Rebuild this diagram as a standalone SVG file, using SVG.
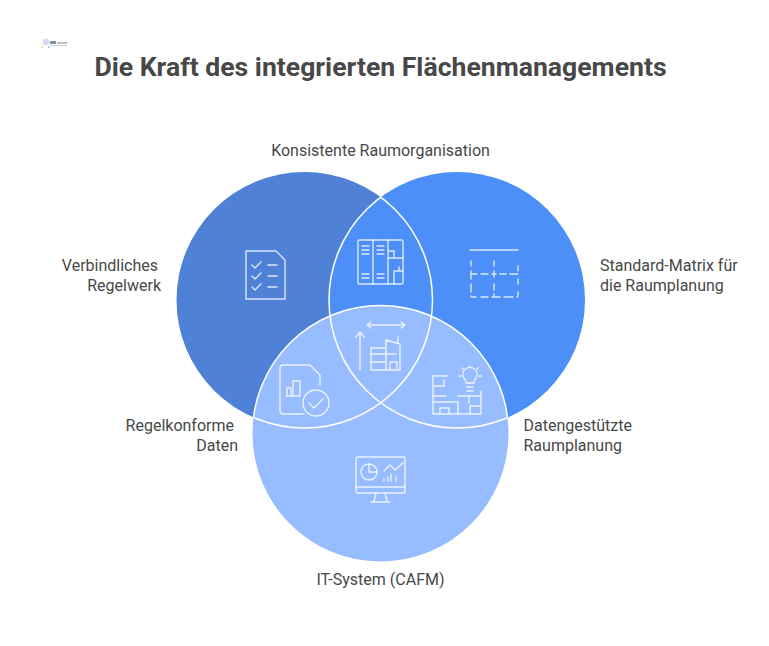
<svg xmlns="http://www.w3.org/2000/svg" width="769" height="646" viewBox="0 0 769 646">
<style>
text{font-family:Roboto,"Liberation Sans",sans-serif;fill:#484848;font-size:16px}
.t{font-size:26.600px;font-weight:700}
.e{text-anchor:end}
.o{fill:none;stroke:#fff;stroke-width:1.500}
.i{fill:none;stroke:#fff;stroke-width:1.400;stroke-linecap:round;stroke-linejoin:round;opacity:.8}
</style>
<defs>
<circle id="cl" cx="304.500" cy="300" r="128"/>
<circle id="cr" cx="457" cy="300" r="128"/>
<circle id="cb" cx="380.500" cy="433.500" r="128"/>
<clipPath id="nl"><use href="#cr"/><use href="#cb"/></clipPath>
<clipPath id="nr"><use href="#cl"/><use href="#cb"/></clipPath>
<clipPath id="nb"><use href="#cl"/><use href="#cr"/></clipPath>
</defs>
<rect width="769" height="646" fill="#fff"/>
<g id="logo">
<circle cx="46" cy="42" r="3.500" fill="#c3cde4" opacity=".7"/>
<circle cx="42" cy="47" r="1.100" fill="#f2d97a"/>
<circle cx="49" cy="47" r="1.100" fill="#8cc7ee"/>
<rect x="50" y="41" width="6" height="3" fill="#6d7482" opacity=".8"/>
<rect x="57" y="42" width="10" height="2" fill="#a9adb5" opacity=".8"/>
<rect x="50" y="45" width="17" height="1" fill="#b4b8bf" opacity=".7"/>
</g>
<text class="t" x="380.500" y="76" text-anchor="middle">Die Kraft des integrierten Flächenmanagements</text>
<g id="circles">
<use href="#cl" fill="#4f81d6"/>
<use href="#cr" fill="#4c8ff8"/>
<use href="#cb" fill="#97bcff"/>
<use href="#cl" class="o" clip-path="url(#nl)"/>
<use href="#cr" class="o" clip-path="url(#nr)"/>
<use href="#cb" class="o" clip-path="url(#nb)"/>
</g>
<g id="node-regelwerk">
<path class="i" d="M246 251H276L285 260V299H246Z"/>
<path class="i" d="M252 265L255 268L261 262M252 276L255 279L261 273M252 287L255 290L261 284M268 265H277M268 276H277M268 287H277"/>
</g>
<g id="node-raumorganisation">
<rect class="i" x="358" y="240" width="45" height="44" rx="1.500"/>
<path class="i" d="M373 240V284M388 240V284M388 258H403M388 251H394V258M394 284V271H403M399 271V267M362 246H369M362 250H369M362 254H369M377 246H384M377 250H384M377 254H384M362 274H369M362 278H369M377 274H384M377 278H384"/>
</g>
<g id="node-matrix">
<path class="i" d="M470 250H518" opacity="1"/>
<path class="i" d="M471 261V266M471 271V279M471 284V292M471 296Q471 297 472 297H476M481 297H488M492 297H500M504 297H513M517 297Q518 297 518 296V292M518 284V279M518 271V266M494 261V266M494 271V277M494 284V290M494 294V297M471 274H477M481 274H488M492 274H496M500 274H506M510 274H518"/>
</g>
<g id="node-kern">
<path class="i" d="M367 325H405M371 322L367 325L371 328M401 322L405 325L401 328M360 370V332M356 337L360 332L364 337"/>
<path class="i" d="M371 370V348H386M386 370V340L400 344V370ZM371 370H386M371 354H396M371 362H386M390 370V362H397V370M398 342V337"/>
</g>
<g id="node-regelkonform">
<path class="i" d="M304 414H283Q280 414 280 411V368Q280 365 283 365H310L320 375V385M287 396V388H291V396M293 396V381H300V396M286 396H300"/>
<circle class="i" cx="316" cy="403" r="13"/>
<path class="i" d="M309 403L314 408L323 399"/>
</g>
<g id="node-datenraum">
<path class="i" d="M447 376H433V414H481V391M433 396H446M433 386H444V380M433 402H458V414M440 414V408H449V414M470 414V406H481M458 396H480M469 403V396"/>
<path class="i" d="M466 383Q466 380 464 378A7 7 0 1 1 476 378Q474 380 474 383ZM467 387H473M467 391H473M470 366V368M459 376H461M479 376H481M462 368L463 369M478 368L477 369"/>
</g>
<g id="node-cafm">
<rect class="i" x="356" y="457" width="49" height="36" rx="1.500"/>
<path class="i" d="M356 487H405M376 493L374 501M385 493L387 501M371 502H390"/>
<circle class="i" cx="369" cy="472" r="8"/>
<path class="i" d="M369 464V472H377M384 471L390 465L395 470L403 463M384 481V479M388 481V477M391 481V474M396 481V477"/>
</g>
<g id="labels">
<text x="380.500" y="156" text-anchor="middle">Konsistente Raumorganisation</text>
<text class="e" x="158" y="271">Verbindliches</text>
<text class="e" x="161" y="291">Regelwerk</text>
<text x="600" y="271">Standard-Matrix für</text>
<text x="600" y="291">die Raumplanung</text>
<text class="e" x="234" y="431">Regelkonforme</text>
<text class="e" x="238" y="451">Daten</text>
<text x="523.500" y="431">Datengestützte</text>
<text x="523.500" y="451">Raumplanung</text>
<text x="380.500" y="585" text-anchor="middle">IT-System (CAFM)</text>
</g>
</svg>
